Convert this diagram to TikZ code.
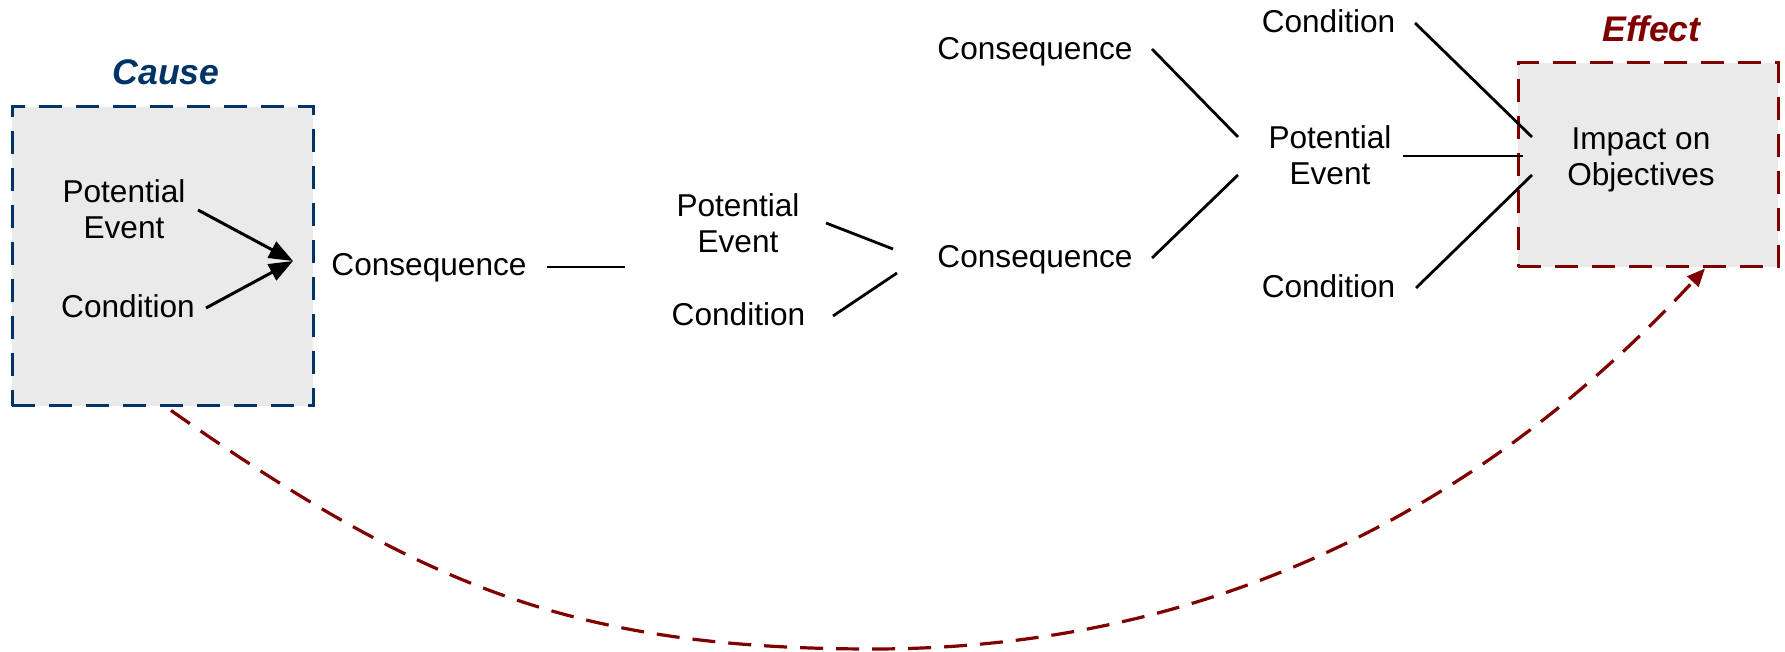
\documentclass[tikz,border=0pt]{standalone}
\usepackage{fontspec}
\setmainfont{Liberation Sans}
\usetikzlibrary{arrows.meta}
\definecolor{causeblue}{RGB}{0,51,102}
\definecolor{effectred}{RGB}{128,0,0}
\definecolor{boxgray}{RGB}{234,234,234}
\begin{document}
\begin{tikzpicture}[x=0.5pt,y=-0.5pt,
  txt/.style={inner sep=0pt, font=\fontsize{15.8pt}{17.9pt}\selectfont},
  oneline/.style={text height=11.3pt, text depth=0pt},
  twoline/.style={align=center},
  heading/.style={inner sep=0pt, font=\fontsize{17.8pt}{20pt}\selectfont\bfseries\itshape,
                  text height=12.75pt, text depth=0pt},
  zone/.style={draw, line width=1.5pt, dash pattern=on 11.5pt off 7pt, fill=boxgray, inner sep=0pt},
  link/.style={line width=1.4pt},
  feed/.style={line width=1.5pt, -{Triangle[length=12pt,width=9pt]}},
  reach/.style={effectred, line width=1.6pt, dash pattern=on 11.5pt off 6.5pt,
                -{Triangle[length=9pt,width=7.5pt]}}
]
\useasboundingbox (0,0) rectangle (1785,652);

% dashed frames for cause and effect
\node[zone, draw=causeblue, minimum width=150.5pt, minimum height=149.5pt] (cause) at (162.5,256.5) {};
\node[zone, draw=effectred, minimum width=130pt, minimum height=102pt] (effect) at (1648,165) {};

% headings
\node[heading, text=causeblue] (causeT) at (166,72) {Cause};
\node[heading, text=effectred] (effectT) at (1651.5,28.5) {Effect};

% cause chain
\node[txt, twoline] (cpe) at (124,209) {Potential\\Event};
\node[txt, oneline] (ccond) at (128,306) {Condition};
\coordinate (j0) at (293,261);

\node[txt, oneline] (cons1) at (429,264.5) {Consequence};
\coordinate (j1) at (625,267);

\node[txt, twoline] (pe2) at (738,223.5) {Potential\\Event};
\node[txt, oneline] (cond2) at (738.5,314) {Condition};

\node[txt, oneline] (consU) at (1035,48) {Consequence};
\node[txt, oneline] (consL) at (1035,256.5) {Consequence};

\node[txt, oneline] (condT) at (1328.5,21) {Condition};
\node[txt, twoline] (pe3) at (1330,155) {Potential\\Event};
\node[txt, oneline] (condB) at (1328.5,286.5) {Condition};

\node[txt, twoline] (impact) at (1641,160) {Impact on\\Objectives};

% connectors
\draw[feed] ([shift={(74,1)}]cpe.center) -- (j0);
\draw[feed] ([shift={(78,2)}]ccond.center) -- (j0);

\draw[link] ([shift={(118,2.5)}]cons1.center) -- (j1);

\draw[link] ([shift={(88,-0.5)}]pe2.center) -- ([shift={(-142,-7.5)}]consL.center);
\draw[link] ([shift={(94.5,2)}]cond2.center) -- ([shift={(-138,16.5)}]consL.center);

\draw[link] ([shift={(117,1)}]consU.center) -- ([shift={(-92,-18)}]pe3.center);
\draw[link] ([shift={(117,1.5)}]consL.center) -- ([shift={(-92,20)}]pe3.center);

\draw[link] ([shift={(86.5,2)}]condT.center) -- ([shift={(-109,-23)}]impact.center);
\draw[link] ([shift={(73,1)}]pe3.center) -- ([shift={(-118,-4)}]impact.center);
\draw[link] ([shift={(87.5,1.5)}]condB.center) -- ([shift={(-109,15)}]impact.center);

% long dashed link from cause to effect
\draw[reach] ([shift={(8.5,3)}]cause.south)
  .. controls +(250,175) and +(-300,0) .. (873,649)
  .. controls +(300,0) and +(-250,270) .. ([shift={(57,0)}]effect.south);
\end{tikzpicture}
\end{document}
